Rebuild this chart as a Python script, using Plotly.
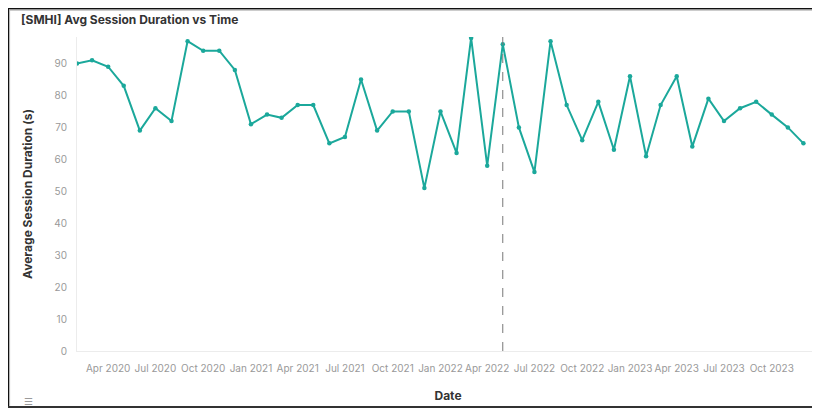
import plotly.graph_objects as go
import pandas as pd

# ---- data ----
dates = pd.date_range("2020-02-01", periods=47, freq="MS").strftime("%Y-%m-%d").tolist()
avg_session_duration = [
    90, 91, 89, 83, 69, 76, 72, 97, 94, 94, 88, 71,
    74, 73, 77, 77, 65, 67, 85, 69, 75, 75, 51, 75,
    62, 98, 58, 96, 70, 56, 97, 77, 66, 78, 63, 86,
    61, 77, 86, 64, 79, 72, 76, 78, 74, 70, 65,
]
event_date = "2022-05-01"
tick_dates = ["2020-04-01", "2020-07-01", "2020-10-01", "2021-01-01", "2021-04-01",
              "2021-07-01", "2021-10-01", "2022-01-01", "2022-04-01", "2022-07-01",
              "2022-10-01", "2023-01-01", "2023-04-01", "2023-07-01", "2023-10-01"]
tick_labels = ["Apr 2020", "Jul 2020", "Oct 2020", "Jan 2021", "Apr 2021",
               "Jul 2021", "Oct 2021", "Jan 2022", "Apr 2022", "Jul 2022",
               "Oct 2022", "Jan 2023", "Apr 2023", "Jul 2023", "Oct 2023"]
y_ticks = [0, 10, 20, 30, 40, 50, 60, 70, 80, 90]

# page has an 8px body margin: figure coords = page coords - OFF
OFF = 8
W, H = 820 - OFF, 408 - OFF
plot_left, plot_right, plot_top, plot_bottom = 77, 819, 36.5, 351  # page coords
L, R = plot_left - OFF, W - (plot_right - OFF)
T, B = plot_top - OFF, H - (plot_bottom - OFF)
pw, ph = W - L - R, H - T - B

def px(x):  # page x -> paper
    return (x - OFF - L) / pw

def py(y):  # page y -> paper
    return (H - B - (y - OFF)) / ph

fig = go.Figure()
fig.add_trace(go.Scatter(
    x=dates, y=avg_session_duration, mode="lines+markers",
    line=dict(color="#1ba89b", width=2),
    marker=dict(color="#1ba89b", size=4.5),
    hoverinfo="x+y", showlegend=False,
))

fig.add_shape(type="line", xref="x", yref="paper", x0=event_date, x1=event_date,
              y0=0, y1=1, line=dict(color="#777777", width=1, dash="dash"))

# screenshot frame
frame_dark = "#111111"
frame_gray = "#b0b0b0"
fig.add_shape(type="line", xref="paper", yref="paper", x0=px(7), x1=px(830), y0=py(8), y1=py(8),
              line=dict(color=frame_dark, width=2))
fig.add_shape(type="line", xref="paper", yref="paper", x0=px(9.5), x1=px(830), y0=py(9.6), y1=py(9.6),
              line=dict(color=frame_gray, width=1))
fig.add_shape(type="line", xref="paper", yref="paper", x0=px(8), x1=px(8), y0=py(7), y1=py(410),
              line=dict(color=frame_dark, width=2))
fig.add_shape(type="line", xref="paper", yref="paper", x0=px(9.6), x1=px(9.6), y0=py(9), y1=py(406),
              line=dict(color=frame_gray, width=1))
fig.add_shape(type="line", xref="paper", yref="paper", x0=px(7), x1=px(830), y0=py(407), y1=py(407),
              line=dict(color="#333333", width=2))

fig.add_annotation(text="☰", xref="paper", yref="paper", x=px(28.5), y=py(402),
                   xshift=-6.5, yshift=-7,
                   showarrow=False, font=dict(size=10, color="#9a9a9a"))

fig.update_layout(
    width=W, height=H,
    margin=dict(l=L, r=R, t=T, b=B),
    paper_bgcolor="white", plot_bgcolor="white",
    font=dict(family="Inter", size=10, color="#999999"),
    title=dict(text="<b>[SMHI] Avg Session Duration vs Time</b>", xref="container",
               x=(21 - OFF) / W, xanchor="left", yref="container",
               y=1 - (20 - OFF) / H, yanchor="middle",
               font=dict(size=12, color="#333333")),
    xaxis=dict(
        type="date", range=["2020-02-01", "2023-12-31"],
        tickvals=tick_dates, ticktext=tick_labels,
        showgrid=False, zeroline=False, showline=True, linecolor="#ececec", linewidth=1,
        ticks="outside", ticklen=8, tickcolor="rgba(0,0,0,0)",
        tickfont=dict(size=10, color="#999999"),
        title=dict(text="<b>Date</b>", standoff=18, font=dict(size=12, color="#333333")),
    ),
    yaxis=dict(
        range=[0, 98.3], tickvals=y_ticks,
        showgrid=False, zeroline=False, showline=True, linecolor="#ececec", linewidth=1,
        ticks="outside", ticklen=7, tickcolor="rgba(0,0,0,0)",
        tickfont=dict(size=10, color="#999999"),
        title=dict(text="<b>Average Session Duration (s)</b>", standoff=19,
                   font=dict(size=12, color="#333333")),
    ),
)

fig.write_html("out.html")
